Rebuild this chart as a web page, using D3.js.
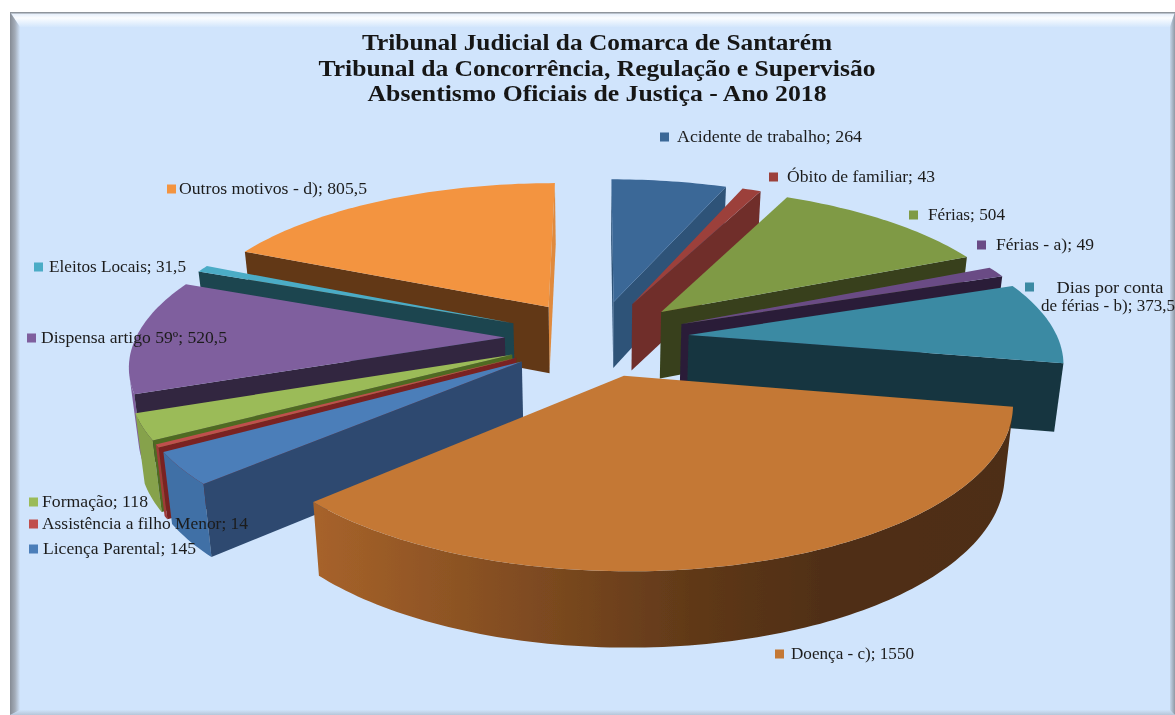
<!DOCTYPE html>
<html><head><meta charset="utf-8">
<script src="https://cdn.jsdelivr.net/npm/d3@7/dist/d3.min.js"></script>
<style>html,body{margin:0;padding:0;background:#fff;overflow:hidden}svg{display:block}</style>
</head><body><div id="chart"></div>
<script>
const categories = ["Acidente de trabalho","Óbito de familiar","Férias","Férias  - a)","Dias por conta de férias - b)","Doença - c)","Licença Parental","Assistência a filho Menor","Formação","Dispensa artigo 59º","Eleitos Locais","Outros motivos - d)"];
const values = [264,43,504,49,373.5,1550,145,14,118,520.5,31.5,805.5];
const topColors = ["#3B6797","#9C403B","#7F9A45","#6A4C85","#3A8AA3","#C47834","#4B7EB9","#C0504D","#9BBB59","#7F5F9E","#4BACC6","#F39440"];
const startWallColors = ["#2D5278","#702E2B","#37411A","#2A1F38","#16363F","#5A3413","#2D4A70","#7A2320","#4F6B22","#33263F","#1D444F","#623817"];
const endWallColors = ["#2D5278","#702E2B","#37411A","#2A1F38","#16363F","#5A3413","#2D4A70","#7A2320","#4F6B22","#33263F","#1D444F","#E08A3C"];
const rimColors = ["#3B6797","#9C403B","#7F9A45","#6A4C85","#3A8AA3","#A6622A","#3F6FA6","#A03A37","#86A24C","#7F5F9E","#4BACC6","#F39440"];
const paintOrder = [0,1,2,3,4,11,10,9,8,7,6,5];
// label layout: [squareX, squareY, textX, textEndX]
const labelLayout = [[660,137,677,862],[769,177,787,935],[909,215,928,1005],[977,245,996,1094],[1025,287,0,0],[775,654,791,914],[29,549,43,196],[29,524,42,248],[29,502,42,148],[27,338,41,227],[34,267,49,186],[167,189,179,367]];
const titleLines = ["Tribunal Judicial da Comarca de Santarém","Tribunal da Concorrência, Regulação e Supervisão","Absentismo Oficiais de Justiça - Ano 2018"];
const titleWidths = [470,557,459];
const titleBaselines = [50,75.5,101];
const shadeX = [320,540,700,820,1010];
const shadeK = [1,0.755,0.575,0.48,0.47];

const W=1175,H=715;
const svg=d3.select("#chart").append("svg").attr("width",W).attr("height",H);
const defs=svg.append("defs");
const lg=defs.append("linearGradient").attr("id","leftBevel");
lg.append("stop").attr("offset","0").attr("stop-color","#858b94");
lg.append("stop").attr("offset","0.5").attr("stop-color","#a3acb8");
lg.append("stop").attr("offset","1").attr("stop-color","#cfe2f9");
const tg=defs.append("linearGradient").attr("id","topBevel").attr("x1",0).attr("x2",0).attr("y1",0).attr("y2",1);
tg.append("stop").attr("offset","0").attr("stop-color","#dbe8f8");
tg.append("stop").attr("offset","0.4").attr("stop-color","#fbfdff");
tg.append("stop").attr("offset","1").attr("stop-color","#d3e6fc");
const rg=defs.append("linearGradient").attr("id","rightBevel");
rg.append("stop").attr("offset","0").attr("stop-color","#c4d6ea");
rg.append("stop").attr("offset","1").attr("stop-color","#8f98a3");
const bv=defs.append("linearGradient").attr("id","bottomBevel").attr("x1",0).attr("x2",0).attr("y1",0).attr("y2",1);
bv.append("stop").attr("offset","0").attr("stop-color","#cfe2f9");
bv.append("stop").attr("offset","1").attr("stop-color","#b6c6d8");
const soft=defs.append("filter").attr("id","soft").attr("x","-5%").attr("y","-5%").attr("width","110%").attr("height","110%");
soft.append("feGaussianBlur").attr("stdDeviation",0.5);
const softText=defs.append("filter").attr("id","softText").attr("x","-5%").attr("y","-5%").attr("width","110%").attr("height","110%");
softText.append("feGaussianBlur").attr("stdDeviation",0.3);

svg.append("rect").attr("width",W).attr("height",H).attr("fill","#fff");
svg.append("rect").attr("x",10).attr("y",12).attr("width",W-10).attr("height",H-12).attr("fill","#D0E4FC");
svg.append("path").attr("d",`M10,12H${W}L1170,27H20Z`).attr("fill","url(#topBevel)");
svg.append("path").attr("d",`M${W},12L1170,27V${H-3}L${W},${H}Z`).attr("fill","url(#rightBevel)");
svg.append("path").attr("d",`M10,${H}L20,${H-5}H1170L${W},${H}Z`).attr("fill","url(#bottomBevel)");
svg.append("path").attr("d",`M10,12L20,27V${H-5}L10,${H}Z`).attr("fill","url(#leftBevel)");
svg.append("rect").attr("x",10).attr("y",12).attr("width",W-10).attr("height",1.5).attr("fill","#8f959c");

// perspective plane
const cx=597,cy=338,A=369,B=152,persp=0.155,explode=0.25,depth=67.5,depthPow=0.575,taper=0.02;
const project=(u,v,z)=>{const w=1+persp*v;return [cx+A*u/w*(1-taper*z), cy-B*v/w+depth*z/Math.pow(w,depthPow)];};
const pie=d3.pie().sort(null).value(d=>d);
const arcs=pie(values);
const line=d3.line();
const area2=q=>{let s=0;q.forEach((p,i)=>{const n=q[(i+1)%q.length];s+=p[0]*n[1]-n[0]*p[1];});return s;};
const fmt=v=>String(v).replace(".",",");

const gPie=svg.append("g").attr("filter","url(#soft)");
paintOrder.forEach(i=>{
  const a=arcs[i], mid=(a.startAngle+a.endAngle)/2;
  const ou=explode*Math.sin(mid), ov=explode*Math.cos(mid);
  const pt=(t,z)=>project(ou+Math.sin(t),ov+Math.cos(t),z);
  const apex=z=>project(ou,ov,z);
  const g=gPie.append("g");
  // outer rim: one polygon for the part that faces the viewer, shaded along the screen
  const nr=Math.max(2,Math.ceil((a.endAngle-a.startAngle)/0.02));
  const ts=d3.range(nr+1).map(k=>a.startAngle+(a.endAngle-a.startAngle)*k/nr);
  const visible=d3.pairs(ts).filter(([t0,t1])=>area2([pt(t0,0),pt(t1,0),pt(t1,1),pt(t0,1)])<0);
  if(visible.length){
    const rt=[visible[0][0],...visible.map(p=>p[1])];
    const poly=[...rt.map(t=>pt(t,0)),...rt.slice().reverse().map(t=>pt(t,1))];
    const id="rim"+i;
    const grad=defs.append("linearGradient").attr("id",id).attr("gradientUnits","userSpaceOnUse")
      .attr("x1",shadeX[0]).attr("x2",shadeX[shadeX.length-1]).attr("y1",0).attr("y2",0);
    const c=d3.rgb(rimColors[i]);
    shadeX.forEach((x,j)=>grad.append("stop")
      .attr("offset",(x-shadeX[0])/(shadeX[shadeX.length-1]-shadeX[0]))
      .attr("stop-color",d3.rgb(c.r*shadeK[j],c.g*shadeK[j],c.b*shadeK[j])));
    g.append("path").attr("d",line(poly)+"Z").attr("fill",`url(#${id})`);
  }
  // cut walls
  const startQ=[apex(0),pt(a.startAngle,0),pt(a.startAngle,1),apex(1)];
  const endQ=[apex(0),pt(a.endAngle,0),pt(a.endAngle,1),apex(1)];
  if(area2(endQ)>0) g.append("path").attr("d",line(endQ)+"Z").attr("fill",endWallColors[i]);
  if(area2(startQ)<0) g.append("path").attr("d",line(startQ)+"Z").attr("fill",startWallColors[i]);
  // top face
  const topPts=[apex(0)];
  const n=Math.max(4,Math.ceil((a.endAngle-a.startAngle)/0.02));
  d3.range(n+1).forEach(k=>topPts.push(pt(a.startAngle+(a.endAngle-a.startAngle)*k/n,0)));
  g.append("path").attr("d",line(topPts)+"Z").attr("fill",topColors[i]);
});

// title
const gTitle=svg.append("g").attr("font-family","'Liberation Serif',serif").attr("font-weight","bold").attr("font-size",22.8).attr("fill","#161616").attr("text-anchor","middle").attr("filter","url(#softText)");
titleLines.forEach((t,i)=>gTitle.append("text").attr("x",597).attr("y",titleBaselines[i]).attr("textLength",titleWidths[i]).attr("lengthAdjust","spacingAndGlyphs").text(t));

// labels
const gLab=svg.append("g").attr("font-family","'Liberation Serif',serif").attr("font-size",16.5).attr("fill","#1c1c1c").attr("filter","url(#softText)");
categories.forEach((c,i)=>{
  const [sx,sy,tx,te]=labelLayout[i];
  gLab.append("rect").attr("x",sx).attr("y",sy-4.5).attr("width",9).attr("height",9).attr("fill",topColors[i]);
  if(i===4){
    gLab.append("text").attr("x",1110).attr("y",293).attr("text-anchor","middle").attr("textLength",107).attr("lengthAdjust","spacingAndGlyphs").text("Dias por conta");
    gLab.append("text").attr("x",1041).attr("y",311).attr("textLength",134).attr("lengthAdjust","spacingAndGlyphs").text("de férias - b); "+fmt(values[i]));
  } else {
    gLab.append("text").attr("x",tx).attr("y",sy+5).attr("textLength",te-tx).attr("lengthAdjust","spacingAndGlyphs").text(c+"; "+fmt(values[i]));
  }
});
</script></body></html>
